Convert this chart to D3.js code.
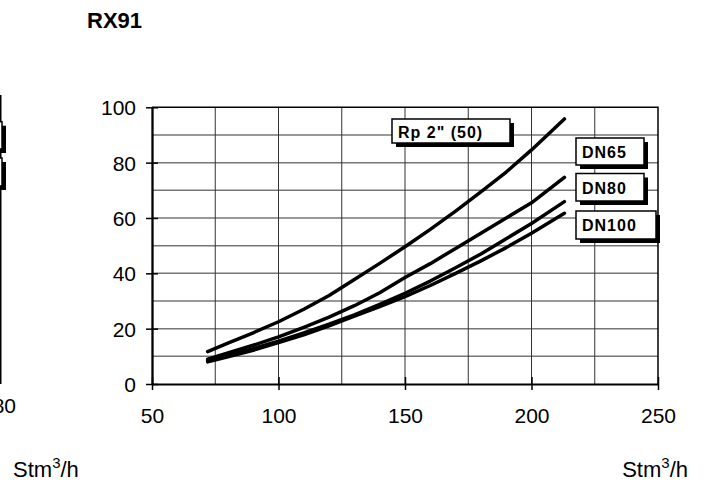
<!DOCTYPE html>
<html>
<head>
<meta charset="utf-8">
<script src="https://cdn.jsdelivr.net/npm/d3@7"></script>
<style>
  body { margin: 0; background: #fff; }
  text { font-family: "Liberation Sans", Arial, sans-serif; }
</style>
</head>
<body>
<div id="chart"></div>
<script>
// flow (Stm3/h) and pressure drop readings for each connection size
var flow = [72, 80, 90, 100, 110, 120, 130, 140, 150, 160, 170, 180, 190, 200, 213];
var rp2  = [11.7, 14.8, 18.5, 22.5, 27, 32, 37.8, 43.6, 49.6, 55.9, 62.5, 69.4, 76.6, 84.6, 95.8];
var dn65 = [9, 11.2, 14, 17, 20.5, 24.2, 28.3, 33, 38.5, 43.5, 49, 54.5, 60, 65.5, 74.7];
var dn80 = [8.5, 10.3, 12.8, 15.5, 18.5, 21.6, 25, 28.8, 32.8, 37.2, 42, 47, 52.5, 58, 65.9];
var dn100 = [8, 9.8, 12.2, 15, 17.8, 21, 24.5, 28, 31.6, 35.6, 40, 44.5, 49.3, 54.5, 61.7];
var seriesNames = ['Rp 2" (50)', "DN65", "DN80", "DN100"];
var xTicks = [50, 100, 150, 200, 250];
var yTicks = [0, 20, 40, 60, 80, 100];

var W = 707, H = 487;
var svg = d3.select("#chart").append("svg")
    .attr("width", W)
    .attr("height", H);

var x = d3.scaleLinear().domain([50, 250]).range([152, 658]);
var y = d3.scaleLinear().domain([0, 100]).range([384, 107.3]);

// title
svg.append("text")
    .attr("x", 87).attr("y", 28)
    .style("font-size", "22px").style("font-weight", "bold")
    .text("RX91");

// left (cut off) panel remains
svg.append("line")
    .attr("x1", 0.75).attr("x2", 0.75)
    .attr("y1", 95).attr("y2", 384)
    .attr("stroke", "#000").attr("stroke-width", 1.5);
[[121.7, 149], [158, 186]].forEach(function(b) {
  svg.append("rect").attr("x", -40).attr("y", b[0] + 4)
      .attr("width", 46).attr("height", b[1] - b[0]).attr("fill", "#000");
  svg.append("rect").attr("x", -40).attr("y", b[0])
      .attr("width", 42).attr("height", b[1] - b[0])
      .attr("fill", "#fff").attr("stroke", "#000").attr("stroke-width", 1.5);
});
svg.append("text")
    .attr("x", 16).attr("y", 413)
    .attr("text-anchor", "end")
    .style("font-size", "21px")
    .text("80");

// grid
var g = svg.append("g");
g.selectAll(".hgrid")
  .data(d3.range(10, 100, 10))
  .enter().append("line")
    .attr("x1", x(50)).attr("x2", x(250))
    .attr("y1", function(d) { return y(d); })
    .attr("y2", function(d) { return y(d); })
    .attr("stroke", "#777").attr("stroke-width", 1.5);
g.selectAll(".vgrid")
  .data(d3.range(75, 250, 25))
  .enter().append("line")
    .attr("y1", y(0)).attr("y2", y(100))
    .attr("x1", function(d) { return x(d); })
    .attr("x2", function(d) { return x(d); })
    .attr("stroke", "#333").attr("stroke-width", 1);

// frame top/right
svg.append("path")
    .attr("d", "M" + x(50) + "," + y(100) + "H" + x(250) + "V" + y(0))
    .attr("fill", "none").attr("stroke", "#000").attr("stroke-width", 1.5);

// axes with ticks crossing the axis line
var xAxis = d3.axisBottom(x).tickValues(xTicks).tickSizeInner(6).tickSizeOuter(0).tickFormat(d3.format("d"));
var gx = svg.append("g").attr("transform", "translate(0," + y(0) + ")").call(xAxis);
gx.select(".domain").attr("stroke", "#000").attr("stroke-width", 2);
gx.selectAll(".tick line").attr("y1", -7).attr("y2", 6).attr("stroke", "#000").attr("stroke-width", 1.5);
gx.selectAll(".tick text").attr("y", 0).attr("dy", 39)
    .style("font-size", "21px").style("font-family", "Liberation Sans, Arial, sans-serif").attr("fill", "#000");

var yAxis = d3.axisLeft(y).tickValues(yTicks).tickSizeInner(6).tickSizeOuter(0);
var gy = svg.append("g").attr("transform", "translate(" + x(50) + ",0)").call(yAxis);
gy.select(".domain").attr("stroke", "#000").attr("stroke-width", 2.3);
gy.selectAll(".tick line").attr("x1", -6).attr("x2", 6).attr("stroke", "#000").attr("stroke-width", 1.5);
gy.selectAll(".tick text").attr("x", -16).attr("dy", "0.36em")
    .style("font-size", "21px").style("font-family", "Liberation Sans, Arial, sans-serif").attr("fill", "#000");

// curves
var line = d3.line()
    .x(function(d) { return x(d[0]); })
    .y(function(d) { return y(d[1]); });
var all = [rp2, dn65, dn80, dn100].map(function(s) {
  return flow.map(function(f, i) { return [f, s[i]]; });
});
svg.selectAll(".curve")
  .data(all)
  .enter().append("path")
    .attr("class", "curve")
    .attr("d", line)
    .attr("fill", "none")
    .attr("stroke", "#000")
    .attr("stroke-width", 3.5)
    .attr("stroke-linejoin", "round")
    .attr("stroke-linecap", "round");

// label boxes with drop shadows
var boxes = [
  { x: 392, y: 119, w: 118, h: 24, tx: 398, ty: 137.5 },
  { x: 576, y: 138, w: 68, h: 27, tx: 582, ty: 157.5 },
  { x: 576, y: 173.5, w: 68, h: 27.5, tx: 582, ty: 193.5 },
  { x: 576, y: 211, w: 80, h: 28, tx: 582, ty: 231 }
];
boxes.forEach(function(b, i) {
  svg.append("rect")
      .attr("x", b.x + 4).attr("y", b.y + 4)
      .attr("width", b.w).attr("height", b.h)
      .attr("fill", "#000");
  svg.append("rect")
      .attr("x", b.x).attr("y", b.y)
      .attr("width", b.w).attr("height", b.h)
      .attr("fill", "#fff").attr("stroke", "#000").attr("stroke-width", 1.5);
  svg.append("text")
      .attr("x", b.tx).attr("y", b.ty)
      .style("font-size", "16px").style("font-weight", "bold")
      .style("letter-spacing", "1px")
      .text(seriesNames[i]);
});

// unit labels
[[13, "start"], [688, "end"]].forEach(function(u) {
  var t = svg.append("text")
      .attr("x", u[0]).attr("y", 477)
      .attr("text-anchor", u[1])
      .style("font-size", "22px");
  t.append("tspan").text("Stm");
  t.append("tspan").attr("dy", -9).style("font-size", "15px").text("3");
  t.append("tspan").attr("dy", 9).text("/h");
});
</script>
</body>
</html>
